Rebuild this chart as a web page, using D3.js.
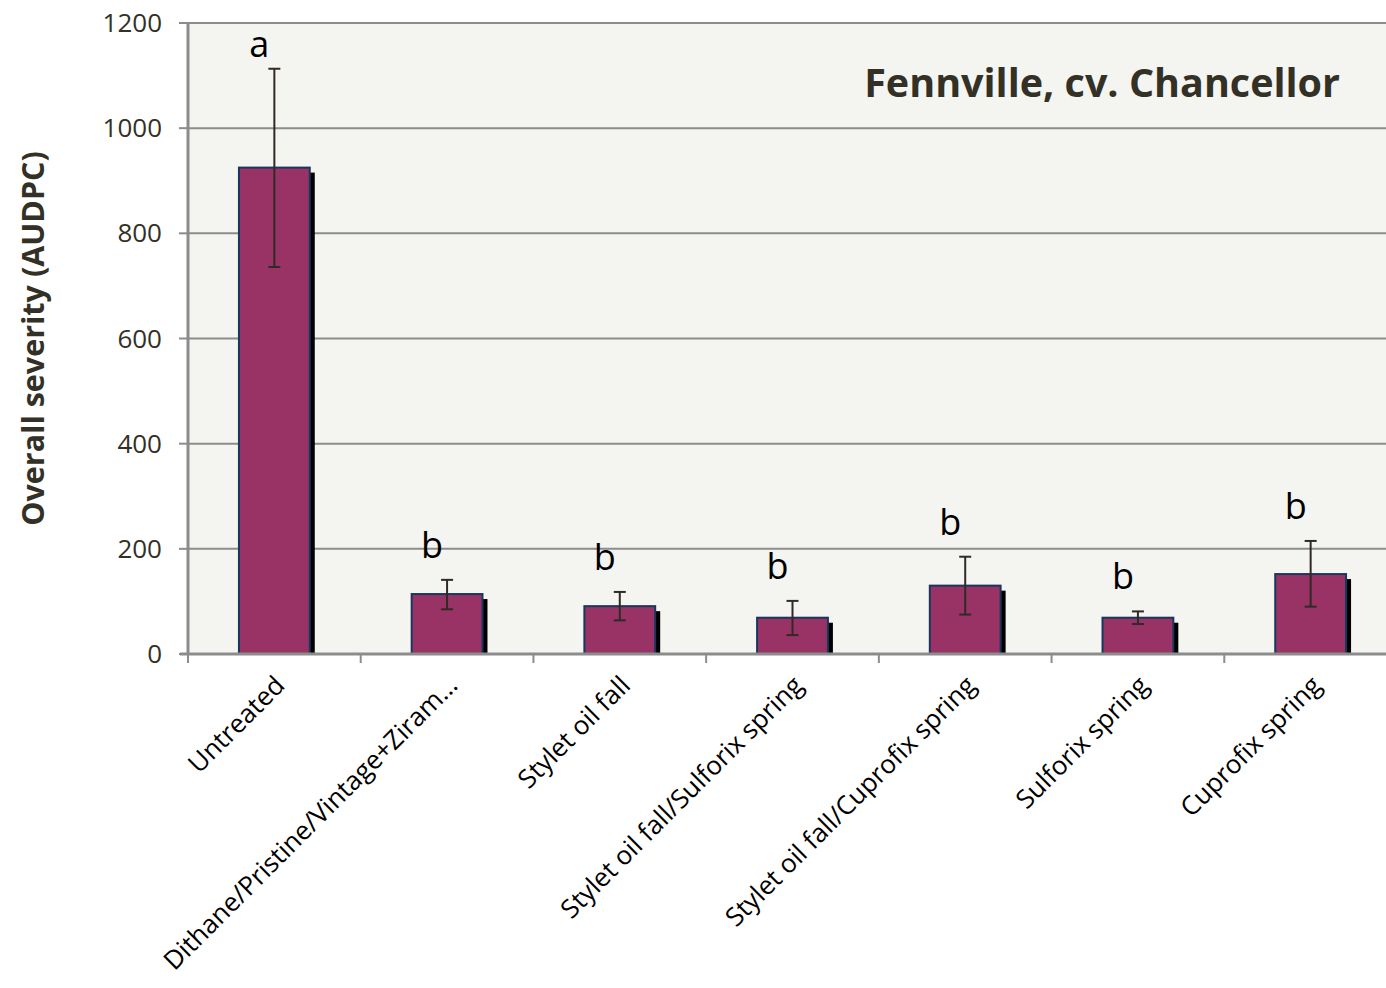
<!DOCTYPE html>
<html>
<head>
<meta charset="utf-8">
<script src="https://cdn.jsdelivr.net/npm/d3@7"></script>
<style>
  body { margin: 0; background: #fff; }
  text { font-family: "Open Sans", Lato, sans-serif; fill: #333025; }
</style>
</head>
<body>
<div id="chart"></div>
<script>
// Datos
const tratamientos = ["Untreated", "Dithane/Pristine/Vintage+Ziram…", "Stylet oil fall",
  "Stylet oil fall/Sulforix spring", "Stylet oil fall/Cuprofix spring", "Sulforix spring", "Cuprofix spring"]
const severidad = [925, 114, 91, 69, 130, 69, 152]
const errorAlto = [1113, 141, 118, 101, 185, 81, 215]
const errorBajo = [736, 85, 64, 36, 75, 57, 90]
const letras = ["a", "b", "b", "b", "b", "b", "b"]
const ticksY = [0, 200, 400, 600, 800, 1000, 1200]

const anchoTotal = 1386
const altoTotal = 988
const margins = { top: 23, right: -11, bottom: 334, left: 188 }
const ancho = anchoTotal - margins.left - margins.right
const alto = altoTotal - margins.top - margins.bottom

const svg = d3.select("#chart").append("svg")
    .attr("width", anchoTotal)
    .attr("height", altoTotal)

const g = svg.append("g")
    .attr("transform", `translate(${margins.left},${margins.top})`)

const x = d3.scaleBand().domain(tratamientos).range([0, ancho]).paddingInner(0.59).paddingOuter(0.295)
const y = d3.scaleLinear().domain([0, 1200]).range([alto, 0])

// fondo
g.append("rect")
    .attr("width", ancho).attr("height", alto)
    .attr("fill", "#f4f4f0")

// grid
g.selectAll(".grid").data(ticksY.filter(d => d > 0)).join("line")
    .attr("x1", 0).attr("x2", ancho)
    .attr("y1", d => y(d)).attr("y2", d => y(d))
    .attr("stroke", "#8c8c8c").attr("stroke-width", 2)

const datos = tratamientos.map((t, i) => ({ t, v: severidad[i], hi: errorAlto[i], lo: errorBajo[i], l: letras[i] }))

// sombras
g.selectAll(".sombra").data(datos).join("rect")
    .attr("x", d => x(d.t) + 5)
    .attr("y", d => y(d.v) + 5)
    .attr("width", x.bandwidth())
    .attr("height", d => alto - y(d.v) - 5)
    .attr("fill", "#000")

// barras
g.selectAll(".barra").data(datos).join("rect")
    .attr("x", d => x(d.t))
    .attr("y", d => y(d.v))
    .attr("width", x.bandwidth())
    .attr("height", d => alto - y(d.v))
    .attr("fill", "#993366")
    .attr("stroke", "#17375e")
    .attr("stroke-width", 2)

// barras de error
const eb = g.selectAll(".err").data(datos).join("g")
    .attr("transform", d => `translate(${x(d.t) + x.bandwidth() / 2},0)`)
    .attr("stroke", "#2f2a25").attr("stroke-width", 2)
eb.append("line").attr("y1", d => y(d.hi)).attr("y2", d => y(d.lo))
eb.append("line").attr("x1", -6).attr("x2", 6).attr("y1", d => y(d.hi)).attr("y2", d => y(d.hi))
eb.append("line").attr("x1", -6).attr("x2", 6).attr("y1", d => y(d.lo)).attr("y2", d => y(d.lo))

// letras
g.selectAll(".letra").data(datos).join("text")
    .attr("x", d => x(d.t) + x.bandwidth() / 2 - 15)
    .attr("y", d => y(d.hi) - (d.l === "a" ? 12 : 22))
    .attr("text-anchor", "middle")
    .attr("font-size", "36px")
    .style("fill", "#000")
    .text(d => d.l)

// ejes
const ejeX = g.append("g")
    .attr("transform", `translate(0,${alto})`)
ejeX.append("line").attr("x1", -8).attr("x2", ancho).attr("stroke", "#8c8c8c").attr("stroke-width", 3)
ejeX.selectAll(".tick").data(d3.range(tratamientos.length + 1)).join("line")
    .attr("x1", i => i * ancho / tratamientos.length).attr("x2", i => i * ancho / tratamientos.length)
    .attr("y1", 0).attr("y2", 9)
    .attr("stroke", "#8c8c8c").attr("stroke-width", 2)
ejeX.selectAll(".lab").data(tratamientos).join("text")
    .attr("transform", d => `translate(${x(d) + x.bandwidth() / 2 + 12},${33}) rotate(-45)`)
    .attr("text-anchor", "end")
    .attr("font-size", "26px")
    .style("fill", "#000")
    .text(d => d)

const ejeY = g.append("g")
ejeY.append("line").attr("y1", 0).attr("y2", alto).attr("stroke", "#8c8c8c").attr("stroke-width", 3)
ejeY.selectAll(".t").data(ticksY).join("line")
    .attr("x1", -9).attr("x2", 0)
    .attr("y1", d => y(d)).attr("y2", d => y(d))
    .attr("stroke", "#8c8c8c").attr("stroke-width", 2)
ejeY.selectAll(".tl").data(ticksY).join("text")
    .attr("x", -26).attr("y", d => y(d) + 9)
    .attr("text-anchor", "end")
    .attr("font-size", "26px")
    .text(d => d)

// borde superior
g.append("line").attr("x1", 0).attr("x2", ancho).attr("y1", 0).attr("y2", 0)
    .attr("stroke", "#8c8c8c").attr("stroke-width", 2)

// titulo
g.append("text")
    .attr("x", 1340 - margins.left).attr("y", 97 - margins.top)
    .attr("text-anchor", "end")
    .attr("font-size", "39.5px").attr("font-weight", "bold")
    .text("Fennville, cv. Chancellor")

svg.append("text")
    .attr("transform", `translate(44,${margins.top + alto / 2}) rotate(-90)`)
    .attr("text-anchor", "middle")
    .attr("font-size", "30.5px").attr("font-weight", "bold")
    .text("Overall severity (AUDPC)")
</script>
</body>
</html>
